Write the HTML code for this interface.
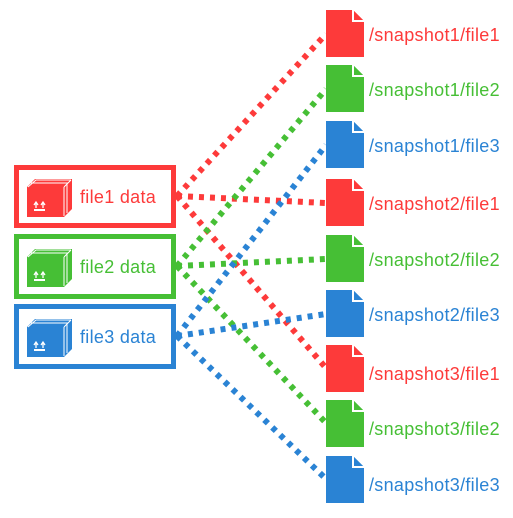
<!DOCTYPE html>
<html><head><style>body{margin:0;background:#fff}svg{display:block}text{font-family:"Liberation Sans",sans-serif;font-size:18px;letter-spacing:0.3px}</style></head><body>
<svg width="513" height="518" viewBox="0 0 513 518" xmlns="http://www.w3.org/2000/svg">
<defs>
<g id="cube"><path d="M0 8 L8 0 L45 0 L45 30 L37 38 Z" fill="currentColor"/><rect x="0" y="8" width="37" height="30" fill="currentColor"/><path d="M1 8 L9 1 L44 1 M37 8 L44 1 M37 8 L37 37" stroke="#fff" stroke-width="1" fill="none"/><path d="M4 4 L41 4 M40 4 L40 34" stroke="#fff" stroke-width="1" fill="none"/><rect x="7" y="30" width="11" height="2" fill="#fff"/><path d="M9 29 v-5 M16 29 v-5 M7 26 l2-3 l2 3 M14 26 l2-3 l2 3" stroke="#fff" stroke-width="1.3" fill="none"/></g>
<g id="doc"><path d="M0 0 H27 L38 11 V47 H0 Z" fill="currentColor"/><path d="M28 1 L37 10 H28 Z" fill="currentColor"/><path d="M27 0 V11 H38" stroke="#fff" stroke-width="2" fill="none"/></g>
</defs>
<g stroke-width="6" stroke-dasharray="5 6" fill="none">
<g stroke="#fd3a3a"><path d="M177 196 L326 34"/><path d="M177 196 L326 203"/><path d="M177 196 L326 368"/></g>
<g stroke="#46bf35"><path d="M177 266 L326 89"/><path d="M177 266 L326 259"/><path d="M177 266 L326 423"/></g>
<g stroke="#2a83d4"><path d="M177 336 L326 145"/><path d="M177 336 L326 314"/><path d="M177 336 L326 479"/></g>
</g>
<g fill="#fff" stroke-width="5">
<rect x="16.5" y="167.5" width="157" height="58" stroke="#fd3a3a"/>
<rect x="16.5" y="236.5" width="157" height="60" stroke="#46bf35"/>
<rect x="16.5" y="306.5" width="157" height="60" stroke="#2a83d4"/>
</g>
<circle cx="177" cy="196" r="3.5" fill="#fd3a3a"/><circle cx="177" cy="266" r="3.5" fill="#46bf35"/><circle cx="177" cy="336" r="3.5" fill="#2a83d4"/>
<use href="#cube" x="27" y="179" style="color:#fd3a3a"/>
<use href="#cube" x="27" y="249" style="color:#46bf35"/>
<use href="#cube" x="27" y="319" style="color:#2a83d4"/>
<text x="80" y="203" fill="#fd3a3a">file1 data</text>
<text x="80" y="273" fill="#46bf35">file2 data</text>
<text x="80" y="343" fill="#2a83d4">file3 data</text>
<g style="color:#fd3a3a"><use href="#doc" x="326" y="10"/><use href="#doc" x="326" y="179"/><use href="#doc" x="326" y="345"/></g>
<g style="color:#46bf35"><use href="#doc" x="326" y="65"/><use href="#doc" x="326" y="235"/><use href="#doc" x="326" y="400"/></g>
<g style="color:#2a83d4"><use href="#doc" x="326" y="121"/><use href="#doc" x="326" y="290"/><use href="#doc" x="326" y="456"/></g>
<g>
<text x="369" y="41" fill="#fd3a3a">/snapshot1/file1</text>
<text x="369" y="96" fill="#46bf35">/snapshot1/file2</text>
<text x="369" y="152" fill="#2a83d4">/snapshot1/file3</text>
<text x="369" y="210" fill="#fd3a3a">/snapshot2/file1</text>
<text x="369" y="266" fill="#46bf35">/snapshot2/file2</text>
<text x="369" y="321" fill="#2a83d4">/snapshot2/file3</text>
<text x="369" y="380" fill="#fd3a3a">/snapshot3/file1</text>
<text x="369" y="435" fill="#46bf35">/snapshot3/file2</text>
<text x="369" y="491" fill="#2a83d4">/snapshot3/file3</text>
</g>
</svg>
</body></html>
